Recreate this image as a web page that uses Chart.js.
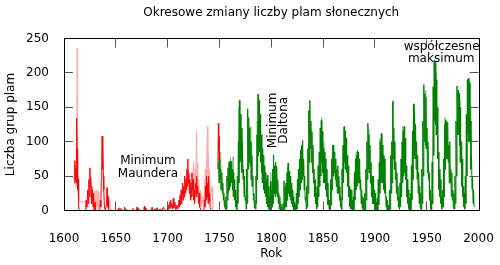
<!DOCTYPE html>
<html>
<head>
<meta charset="utf-8">
<title>Okresowe zmiany liczby plam słonecznych</title>
<script src="https://cdn.jsdelivr.net/npm/chart.js@4"></script>
<style>
  html, body { margin: 0; padding: 0; background: #fff; }
  #wrap { width: 500px; height: 265px; }
</style>
</head>
<body>
<div id="wrap"><canvas id="chart" width="500" height="265"></canvas></div>
<script>
const titleText = 'Okresowe zmiany liczby plam słonecznych';
const xTicks = [1600, 1650, 1700, 1750, 1800, 1850, 1900, 1950, 2000];
const yTicks = [0, 50, 100, 150, 200, 250];

// group sunspot number 1749-1995: highest and lowest monthly value in each year
const greenStart = 1749;
const greenHigh = [
  70, 75, 60, 55, 40, 25, 15, 20, 50, 62,
  70, 72, 71, 60, 55, 45, 30, 15, 50, 100,
  160, 140, 120, 100, 60, 50, 20, 60, 148, 135,
  120, 100, 80, 50, 25, 15, 50, 110, 169, 160,
  140, 110, 90, 80, 65, 55, 45, 51, 35, 20,
  42, 30, 60, 81, 65, 70, 64, 45, 25, 20,
  10, 5, 10, 43, 35, 40, 55, 69, 57, 50,
  40, 30, 20, 12, 8, 25, 45, 60, 75, 88,
  95, 102, 75, 50, 20, 35, 90, 145, 160, 130,
  115, 95, 60, 45, 25, 35, 65, 85, 120, 131,
  115, 90, 85, 75, 60, 40, 20, 15, 45, 75,
  95, 95, 85, 75, 60, 65, 50, 35, 20, 60,
  95, 122, 115, 105, 80, 65, 35, 30, 30, 15,
  20, 55, 75, 80, 87, 85, 75, 45, 30, 20,
  18, 25, 60, 100, 127, 110, 95, 70, 50, 50,
  30, 25, 12, 18, 45, 70, 100, 112, 95, 80,
  75, 40, 20, 15, 8, 30, 80, 100, 158, 120,
  100, 70, 55, 35, 20, 40, 75, 100, 115, 122,
  105, 65, 45, 30, 18, 25, 65, 115, 155, 145,
  125, 100, 80, 55, 35, 25, 60, 130, 183, 170,
  165, 120, 100, 55, 30, 15, 70, 180, 218, 215,
  190, 150, 85, 60, 45, 20, 30, 75, 125, 132,
  130, 128, 95, 100, 60, 55, 30, 25, 50, 130,
  181, 175, 170, 150, 100, 75, 35, 25, 50, 140,
  190, 192, 185, 130, 80, 50, 30
];
const greenLow = [
  40, 45, 30, 25, 15, 5, 0, 2, 15, 25,
  30, 35, 40, 30, 20, 15, 5, 0, 10, 40,
  70, 75, 55, 45, 20, 15, 2, 10, 60, 70,
  65, 45, 35, 15, 4, 2, 10, 45, 80, 85,
  70, 55, 40, 30, 25, 20, 10, 5, 2, 0,
  2, 5, 10, 25, 20, 25, 20, 10, 2, 0,
  0, 0, 0, 2, 5, 5, 15, 25, 20, 15,
  10, 5, 0, 0, 0, 2, 10, 20, 30, 40,
  45, 50, 30, 15, 2, 5, 25, 70, 90, 70,
  55, 40, 20, 10, 2, 5, 20, 35, 50, 70,
  55, 40, 40, 30, 20, 8, 2, 0, 8, 30,
  50, 55, 45, 35, 25, 25, 15, 5, 0, 15,
  40, 70, 60, 55, 35, 20, 5, 2, 2, 0,
  0, 15, 30, 35, 40, 40, 30, 10, 3, 0,
  0, 0, 15, 45, 60, 55, 40, 20, 10, 10,
  2, 0, 0, 0, 8, 25, 40, 45, 40, 30,
  25, 5, 0, 0, 0, 2, 25, 40, 75, 60,
  45, 25, 15, 5, 0, 5, 20, 40, 50, 55,
  45, 20, 10, 2, 0, 0, 15, 45, 80, 75,
  60, 45, 25, 10, 3, 0, 10, 50, 100, 95,
  90, 55, 45, 15, 2, 0, 10, 80, 130, 125,
  110, 75, 30, 20, 10, 2, 5, 20, 60, 75,
  75, 70, 40, 40, 20, 15, 3, 2, 10, 50,
  110, 110, 95, 70, 35, 20, 5, 2, 10, 50,
  110, 100, 100, 60, 30, 10, 5
];
// light green spikes [year, value]
const greenSpikes = [
  [1749.5, 96], [1751, 85], [1760.5, 78], [1763.2, 78], [1768.5, 150],
  [1778.6, 120], [1780.2, 122], [1781, 100], [1786.5, 130], [1789.5, 125],
  [1791, 110], [1799.5, 55], [1815.5, 62], [1829, 92], [1836.5, 145],
  [1848.5, 135], [1850.5, 100], [1859, 90], [1871, 118], [1882, 85],
  [1894, 118], [1905, 105], [1917.5, 160], [1927, 122], [1938, 150],
  [1949, 175], [1959, 200], [1967.5, 135], [1980, 170], [1982, 160],
  [1991.5, 188], [1992.5, 150]
];

// early observations 1610-1750, null = no data
const redPoints = [
  [1610, 40], [1610.4, 72], [1610.8, 45], [1611.2, 60], [1611.6, 40], [1612, 80],
  [1612.4, 134], [1612.7, 60], [1613, 90], [1613.3, 30], [1613.7, 45], [1614, 10], [1614.5, 0], null,
  [1621, 0], [1621.5, 15], [1622, 5], [1623, 30], [1623.5, 10], [1624, 45], [1624.5, 20],
  [1625, 62], [1625.4, 35], [1625.8, 48], [1626.2, 20], [1626.6, 35], [1627, 10], [1627.5, 30],
  [1628, 5], [1628.5, 25], [1629, 0], [1630, 12], [1630.5, 0], null,
  [1634.5, 0], [1635, 15], [1635.5, 5], [1636, 45], [1636.4, 70], [1636.8, 108], [1637.2, 60],
  [1637.6, 95], [1638, 50], [1638.4, 30], [1639, 5], [1640, 0], [1641, 10], [1641.5, 33],
  [1642, 5], [1642.5, 20], [1643, 0], null,
  [1652, 0], [1653, 4], [1653.5, 0], [1655, 3], [1656, 0], null,
  [1658, 0], [1658.5, 5], [1659, 0], [1660, 2], [1661, 0], null,
  [1666, 0], [1666.5, 3], [1667, 0], null,
  [1670, 0], [1670.5, 5], [1671, 0], [1672, 3], [1673, 0], null,
  [1677, 0], [1677.5, 6], [1678, 0], [1679, 4], [1680, 0], null,
  [1684, 0], [1685, 5], [1686, 0], [1688, 3], [1689, 0], [1690, 4], [1691, 0], [1693, 2],
  [1694, 0], [1696, 5], [1697, 0], null,
  [1700, 0], [1700.5, 8], [1701, 2], [1702, 12], [1702.5, 3], [1703, 15], [1703.5, 5], [1704, 10],
  [1705, 2], [1705.5, 18], [1706, 4], [1707, 12], [1708, 0], [1709, 8], [1710, 2], [1711, 15],
  [1711.5, 5], [1712, 22], [1712.5, 8], [1713, 30], [1713.5, 10], [1714, 25], [1714.5, 40],
  [1715, 15], [1715.5, 35], [1716, 20], [1716.5, 50], [1717, 25], [1717.5, 45], [1718, 30],
  [1718.5, 60], [1719, 35], [1719.5, 75], [1720, 40], [1720.5, 55], [1721, 25], [1721.5, 45],
  [1722, 15], [1722.5, 40], [1723, 20], [1723.5, 55], [1724, 30], [1724.5, 45], [1725, 15],
  [1725.5, 30], [1726, 10], [1727, 40], [1727.5, 20], [1728, 50], [1728.5, 25], [1729, 35],
  [1730, 10], [1730.5, 25], [1731, 5], [1732, 0], null,
  [1735, 0], [1735.5, 15], [1736, 5], [1736.5, 35], [1737, 15], [1737.5, 50], [1738, 20],
  [1738.5, 40], [1739, 10], [1739.5, 50], [1740, 15], [1740.5, 25], [1741, 5], [1742, 0], null,
  [1748.5, 60], [1749, 127], [1749.3, 90], [1749.6, 107], [1750, 70]
];
const pinkPoints = [
  [1609.8, 40], [1610.2, 74], [1610.6, 50], [1611, 65], [1611.5, 35], [1612.2, 50],
  [1612.8, 236], [1613.1, 60], [1613.6, 25], [1614.2, 48], [1614.8, 15], [1615.5, 13],
  [1617, 13], [1619, 12], [1620.5, 14], [1621, 0], null,
  [1629.5, 0], [1630, 28], [1630.5, 10], [1631.5, 30], [1632, 5], [1633, 28], [1633.5, 0], null,
  [1643.5, 0], [1644, 15], [1645, 2], [1645.5, 0], null,
  [1724, 20], [1725, 70], [1725.5, 30], [1726.5, 60], [1727, 35], [1728, 115], [1728.4, 40],
  [1729, 70], [1729.5, 20], [1730, 45], [1731, 10], [1732, 30], [1733, 5], [1734, 20],
  [1735, 10], [1736.5, 60], [1737, 30], [1738.5, 122], [1738.8, 40], [1739.3, 80],
  [1740, 20], [1740.5, 60], [1741, 10], [1742, 25], [1743, 35], [1743.5, 0], null
];

const notes = [
  { text: 'Minimum', x: 1681, y: 72, rot: 0 },
  { text: 'Maundera', x: 1681, y: 53, rot: 0 },
  { text: 'Minimum', x: 1801.3, y: 131, rot: -Math.PI / 2 },
  { text: 'Daltona', x: 1812.4, y: 131, rot: -Math.PI / 2 },
  { text: 'współczesne', x: 1964.4, y: 238.5, rot: 0 },
  { text: 'maksimum', x: 1964, y: 221, rot: 0 }
];

const toXY = p => p ? { x: p[0], y: p[1] } : { x: null, y: null };

const greenData = [];
greenHigh.forEach((hi, i) => {
  const yr = greenStart + i;
  greenData.push({ x: yr + 0.25, y: hi }, { x: yr + 0.75, y: greenLow[i] });
});

const lightData = [];
greenSpikes.forEach(([yr, v]) => {
  const idx = Math.floor(yr) - greenStart;
  const lo = greenLow[idx] !== undefined ? greenLow[idx] : 0;
  lightData.push({ x: yr - 0.3, y: lo }, { x: yr, y: v }, { x: yr + 0.3, y: lo }, { x: yr + 0.31, y: null });
});

const FONT = '"DejaVu Sans", sans-serif';
Chart.defaults.font.family = FONT;
Chart.defaults.font.size = 12;
Chart.defaults.color = '#000';

const framePlugin = {
  id: 'frame',
  afterDatasetsDraw(chart) {
    const { ctx, chartArea: a, scales: { x, y } } = chart;
    const px = v => Math.floor(v) + 0.5;
    ctx.save();
    ctx.lineWidth = 1;
    ctx.strokeStyle = '#555';
    ctx.beginPath();
    xTicks.slice(1, -1).forEach(v => {
      const p = px(x.getPixelForValue(v));
      ctx.moveTo(p, a.bottom); ctx.lineTo(p, a.bottom - 9);
      ctx.moveTo(p, a.top); ctx.lineTo(p, a.top + 9);
    });
    yTicks.slice(1, -1).forEach(v => {
      const p = px(y.getPixelForValue(v));
      ctx.moveTo(a.left, p); ctx.lineTo(a.left + 9, p);
      ctx.moveTo(a.right, p); ctx.lineTo(a.right - 9, p);
    });
    ctx.stroke();
    ctx.strokeStyle = '#000';
    ctx.strokeRect(px(a.left), px(a.top), Math.round(a.right - a.left), Math.round(a.bottom - a.top));
    ctx.restore();
  },
  afterDraw(chart) {
    const { ctx, chartArea: a, scales: { x, y } } = chart;
    ctx.save();
    ctx.font = '12px ' + FONT;
    ctx.fillStyle = '#000';
    ctx.textAlign = 'center';
    ctx.textBaseline = 'middle';
    ctx.fillText(titleText, (a.left + a.right) / 2, 13);
    notes.forEach(n => {
      ctx.save();
      ctx.translate(x.getPixelForValue(n.x), y.getPixelForValue(n.y));
      ctx.rotate(n.rot);
      ctx.fillText(n.text, 0, 0);
      ctx.restore();
    });
    ctx.restore();
  }
};

new Chart(document.getElementById('chart'), {
  type: 'scatter',
  data: {
    datasets: [
      { data: greenData, showLine: true, borderColor: '#008000', borderWidth: 1, pointRadius: 0, order: 0 },
      { data: redPoints.map(toXY), showLine: true, spanGaps: false, borderColor: '#ff0000', borderWidth: 1, pointRadius: 0, order: 1 },
      { data: lightData, showLine: true, spanGaps: false, borderColor: '#7fbf7f', borderWidth: 1, pointRadius: 0, order: 2 },
      { data: pinkPoints.map(toXY), showLine: true, spanGaps: false, borderColor: '#ffaaaa', borderWidth: 1, pointRadius: 0, order: 3 }
    ]
  },
  options: {
    responsive: false,
    animation: false,
    events: [],
    layout: { padding: { top: 38.5, right: 21.5, left: 0, bottom: 0 } },
    plugins: { legend: { display: false }, tooltip: { enabled: false }, title: { display: false } },
    scales: {
      x: {
        type: 'linear', min: 1600, max: 2000,
        afterBuildTicks: s => { s.ticks = xTicks.map(v => ({ value: v })); },
        afterFit: s => { s.height = 54.5; s.paddingLeft = 0; s.paddingRight = 0; },
        grid: { display: false }, border: { display: false },
        ticks: { padding: 13, maxRotation: 0, autoSkip: false, callback: v => String(v) },
        title: { display: true, text: 'Rok', padding: { top: 0, bottom: 4 } }
      },
      y: {
        min: 0, max: 250,
        afterBuildTicks: s => { s.ticks = yTicks.map(v => ({ value: v })); },
        afterFit: s => { s.width = 64; s.paddingTop = 0; s.paddingBottom = 0; },
        grid: { display: false }, border: { display: false },
        ticks: { padding: 7 },
        title: { display: true, text: 'Liczba grup plam', padding: { top: 4, bottom: 0 } }
      }
    }
  },
  plugins: [framePlugin]
});
</script>
</body>
</html>
